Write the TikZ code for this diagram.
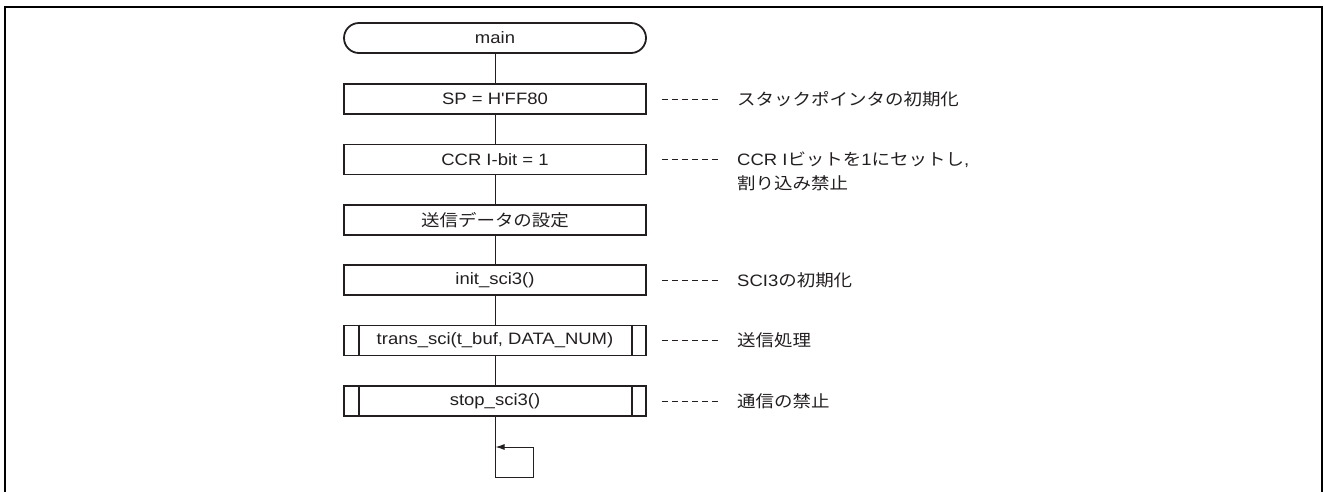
\documentclass[tikz,border=0pt]{standalone}
\usepackage{fontspec}
\newfontfamily\lat{Liberation Sans}[FakeStretch=1.12]
\newfontfamily\cjk{Noto Sans CJK JP}[FakeStretch=1.12]
\usetikzlibrary{arrows.meta}
\definecolor{ink}{HTML}{231F20}
\begin{document}
\begin{tikzpicture}[x=1pt,y=-1pt,
  font=\lat\fontsize{16.5}{24}\selectfont,
  every node/.style={text=ink},
  frame/.style={line width=2pt},
  boxline/.style={line width=1.8pt,draw=ink},
  proc/.style={draw,boxline,rectangle,minimum width=302pt,minimum height=30pt,inner sep=0pt},
  term/.style={proc,rounded corners=15pt},
  conn/.style={line width=1pt,draw=ink},
  note/.style={anchor=west,inner sep=0pt,align=left},
  dashline/.style={line width=1pt,draw=ink,dash pattern=on 6pt off 4pt},
  loopar/.style={conn,-{Latex[length=9pt,width=6pt]}}]
\useasboundingbox (0,0) rectangle (1324,491);
\draw[frame] (5,492) -- (5,7) -- (1322,7) -- (1322,492);

\node[term] (main) at (495,38) {main};
\node[proc] (sp) at (495,99) {SP = H'FF80};
\node[proc] (ccr) at (495,159.5) {CCR I-bit = 1};
\node[proc] (data) at (495,220) {\cjk 送信データの設定};
\node[proc] (init) at (495,280) {init\_sci3()};
\node[proc] (trans) at (495,340.5) {trans\_sci(t\_buf, DATA\_NUM)};
\node[proc] (stop) at (495,401) {stop\_sci3()};

\foreach \n in {trans,stop}{
  \draw[boxline] ([xshift=16pt]\n.north west) -- ([xshift=16pt]\n.south west);
  \draw[boxline] ([xshift=-15pt]\n.north east) -- ([xshift=-15pt]\n.south east);
}

\draw[conn] (main) -- (sp);
\draw[conn] (sp) -- (ccr);
\draw[conn] (ccr) -- (data);
\draw[conn] (data) -- (init);
\draw[conn] (init) -- (trans);
\draw[conn] (trans) -- (stop);

\coordinate (lb) at (495,477);
\coordinate (lr) at (533,447);
\coordinate (lt) at (495.5,447);
\draw[conn] (stop.south) -- (lb) -| (lr);
\draw[loopar] (lr) -- (lt);

\node[note] (c1) at (737,99) {{\cjk スタックポインタの初期化}};
\node[note] (c2) at (737,171) {CCR I{\cjk ビットを}1{\cjk にセットし},\\{\cjk 割り込み禁止}};
\node[note] (c3) at (737,280) {SCI3{\cjk の初期化}};
\node[note] (c4) at (737,340.5) {{\cjk 送信処理}};
\node[note] (c5) at (737,401) {{\cjk 通信の禁止}};

\draw[dashline] ([xshift=15pt]sp.east) -- ++(59,0);
\draw[dashline] ([xshift=15pt]ccr.east) -- ++(59,0);
\draw[dashline] ([xshift=15pt]init.east) -- ++(59,0);
\draw[dashline] ([xshift=15pt]trans.east) -- ++(59,0);
\draw[dashline] ([xshift=15pt]stop.east) -- ++(59,0);
\end{tikzpicture}
\end{document}
